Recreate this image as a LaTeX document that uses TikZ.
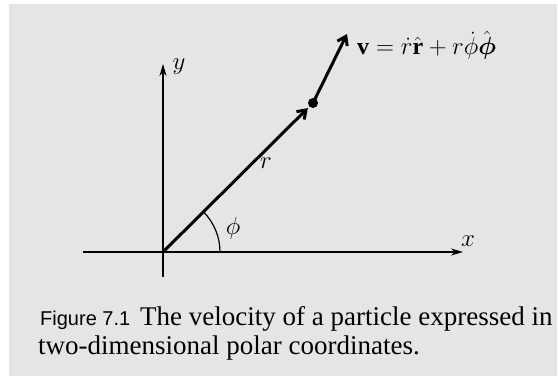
\documentclass[tikz,border=0pt]{standalone}
\usepackage{amsmath,amssymb}
\usepackage{fontspec}
\setmainfont{Liberation Serif}
\setsansfont{Liberation Sans}
\usetikzlibrary{arrows.meta, positioning}

\begin{document}
\begin{tikzpicture}[
    x=1pt, y=1pt,
    every node/.style={font=\fontsize{27}{32}\selectfont},
    axis/.style={-{Stealth[length=12pt,width=7pt]},line width=1.6pt},
    vec/.style={-{Straight Barb[length=8pt,width=11pt]},line width=3pt},
    dot/.style={circle,fill,inner sep=0pt,minimum size=10pt},
    captxt/.style={anchor=base west,inner sep=0pt},
    angarc/.style={line width=1.2pt}
]
\useasboundingbox (0,0) rectangle (558,377);
\fill[white!90!black] (9,1) rectangle (557,373);
% axes and the particle
\coordinate (O)  at (163,125);
\coordinate (xl) at (83,125);
\coordinate (xr) at (463,125);
\coordinate (yb) at (163,100);
\coordinate (yt) at (163,313);
\node[dot] (P) at (313,274) {};
\coordinate (vt) at (347,343);
\draw[axis] (xl) -- (xr);
\draw[axis] (yb) -- (yt);
\draw[vec,shorten >=2pt] (O) -- (P);
\draw[vec] (P.center) -- (vt);
\draw[angarc] (O) ++(57,0) arc[start angle=0,end angle=44.8,radius=57];
% labels
\node (xlab)   at (468,136) {$x$};
\node (ylab)   at (179,310) {$y$};
\node (rlab)   at (266,214) {$r$};
\node (philab) at (233,149) {$\phi$};
\node[captxt,font=\fontsize{24}{28}\selectfont] (vlab) at (357,322)
    {$\mathbf{v}=\dot r\hat{\mathbf{r}}+r\dot\phi\hat{\boldsymbol{\phi}}$};
% caption
\node[captxt,font=\sffamily\fontsize{20}{24}\selectfont] (fignum) at (40,51) {Figure 7.1};
\node[captxt] (cap1) at (140,51) {The velocity of a particle expressed in};
\node[captxt] (cap2) at (38,22) {two-dimensional polar coordinates.};
\end{tikzpicture}
\end{document}
